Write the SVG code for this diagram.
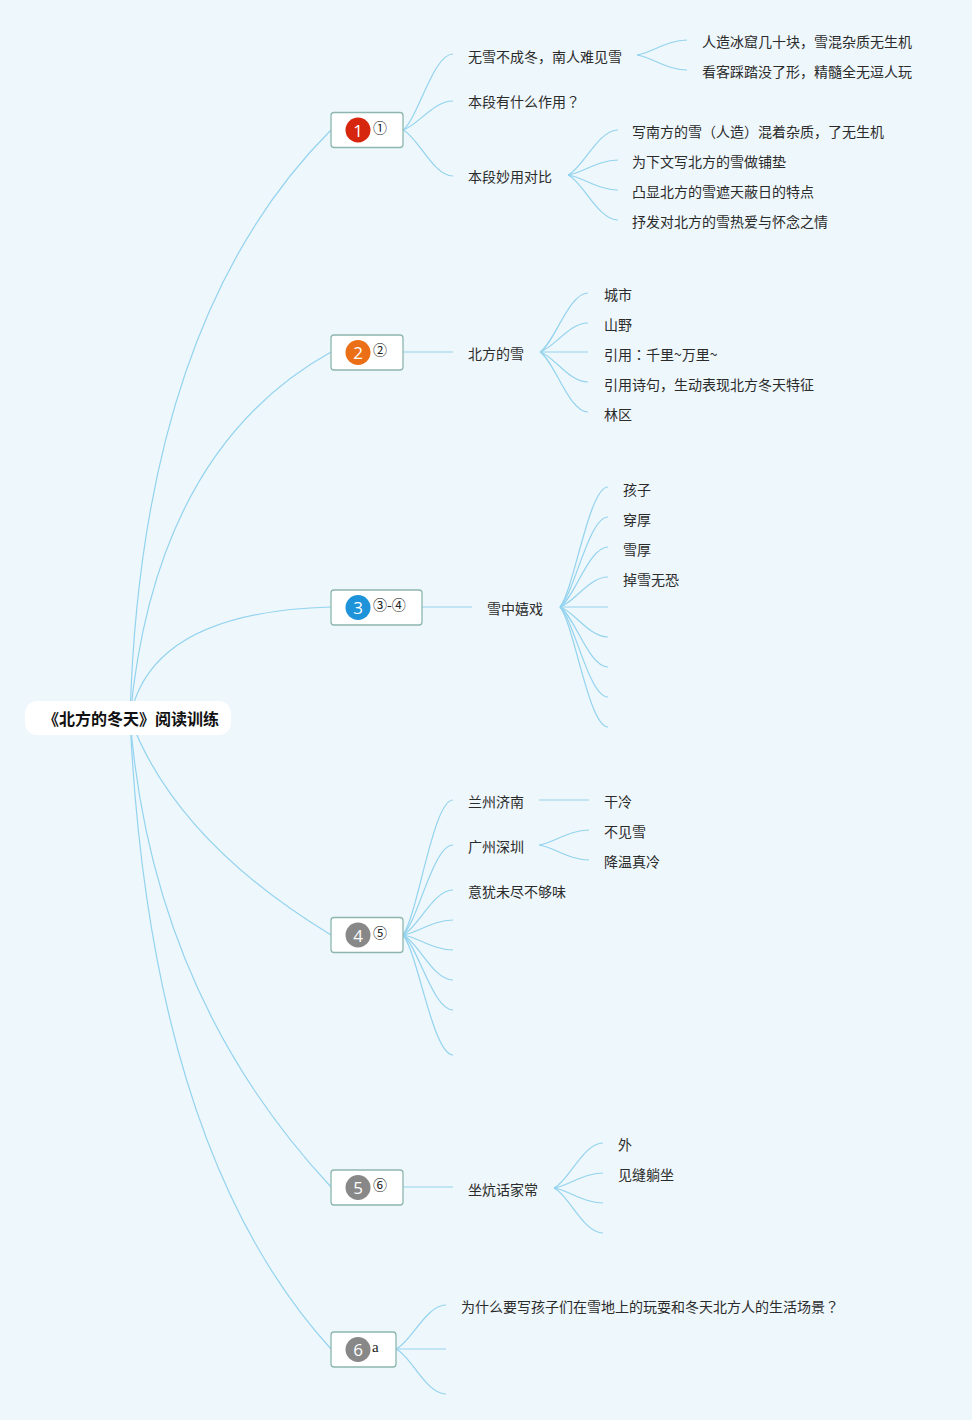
<svg xmlns="http://www.w3.org/2000/svg" width="972" height="1420" viewBox="0 0 972 1420">
<defs>
<style>
.bg{fill:#eef7fb}
.c{fill:none;stroke:#93d3ef;stroke-width:1.2}
.box{fill:#ffffff;stroke:#8db7ae;stroke-width:1.3}
.t{font-family:"Noto Sans CJK SC","Liberation Sans",sans-serif;font-size:14px;fill:#2b2b2b;dominant-baseline:central}
.p{font-family:"Noto Sans CJK TC","Noto Sans CJK SC",sans-serif}
.root{font-family:"Noto Sans CJK SC","Liberation Sans",sans-serif;font-size:16px;font-weight:bold;fill:#111;dominant-baseline:central;text-anchor:middle}
.num{font-family:"Open Sans","Liberation Sans",sans-serif;font-size:17px;fill:#fff;text-anchor:middle;dominant-baseline:central}
.mk{font-family:"Noto Sans CJK SC","DejaVu Sans",sans-serif;font-size:14px;fill:#222;dominant-baseline:central}
</style>
</defs>
<rect class="bg" x="0" y="0" width="972" height="1420"/>
<g id="connectors">
<path class="c" d="M130,718 Q141,320 331,130"/>
<path class="c" d="M130,718 Q155,450 331,352"/>
<path class="c" d="M130,718 Q150,612 331,607"/>
<path class="c" d="M130,718 Q175,840 331,935"/>
<path class="c" d="M130,718 Q152,995 331,1187"/>
<path class="c" d="M130,718 Q150,1150 331,1349"/>
<path class="c" d="M403,130 C418,118.6 433,54 453,54"/>
<path class="c" d="M403,130 C418,125.6 433,101 453,101"/>
<path class="c" d="M403,130 C418,136.9 433,176 453,176"/>
<path class="c" d="M637,55 C652,52.75 667,40 687,40"/>
<path class="c" d="M637,55 C652,57.25 667,70 687,70"/>
<path class="c" d="M568,175 C583,168.25 598,130 618,130"/>
<path class="c" d="M568,175 C583,172.75 598,160 618,160"/>
<path class="c" d="M568,175 C583,177.25 598,190 618,190"/>
<path class="c" d="M568,175 C583,181.75 598,220 618,220"/>
<path class="c" d="M403,352 L453,352"/>
<path class="c" d="M540,352 C554.4,343.15 568.8,293 588,293"/>
<path class="c" d="M540,352 C554.4,347.65 568.8,323 588,323"/>
<path class="c" d="M540,352 L588,352"/>
<path class="c" d="M540,352 C554.4,356.5 568.8,382 588,382"/>
<path class="c" d="M540,352 C554.4,361 568.8,412 588,412"/>
<path class="c" d="M422,607 L472,607"/>
<path class="c" d="M560,607 C574.4,589 588.8,487 608,487"/>
<path class="c" d="M560,607 C574.4,593.5 588.8,517 608,517"/>
<path class="c" d="M560,607 C574.4,598 588.8,547 608,547"/>
<path class="c" d="M560,607 C574.4,602.5 588.8,577 608,577"/>
<path class="c" d="M560,607 L608,607"/>
<path class="c" d="M560,607 C574.4,611.5 588.8,637 608,637"/>
<path class="c" d="M560,607 C574.4,616 588.8,667 608,667"/>
<path class="c" d="M560,607 C574.4,620.5 588.8,697 608,697"/>
<path class="c" d="M560,607 C574.4,625 588.8,727 608,727"/>
<path class="c" d="M403,935 C418,914.75 433,800 453,800"/>
<path class="c" d="M403,935 C418,921.5 433,845 453,845"/>
<path class="c" d="M403,935 C418,928.25 433,890 453,890"/>
<path class="c" d="M403,935 C418,932.75 433,920 453,920"/>
<path class="c" d="M403,935 C418,937.25 433,950 453,950"/>
<path class="c" d="M403,935 C418,941.75 433,980 453,980"/>
<path class="c" d="M403,935 C418,946.25 433,1010 453,1010"/>
<path class="c" d="M403,935 C418,953 433,1055 453,1055"/>
<path class="c" d="M539,800 L589,800"/>
<path class="c" d="M539,845 C554,842.75 569,830 589,830"/>
<path class="c" d="M539,845 C554,847.25 569,860 589,860"/>
<path class="c" d="M403,1187 L453,1187"/>
<path class="c" d="M554,1188 C568.7,1181.25 583.4,1143 603,1143"/>
<path class="c" d="M554,1188 C568.7,1185.75 583.4,1173 603,1173"/>
<path class="c" d="M554,1188 C568.7,1190.25 583.4,1203 603,1203"/>
<path class="c" d="M554,1188 C568.7,1194.75 583.4,1233 603,1233"/>
<path class="c" d="M396,1349 C411,1342.4 426,1305 446,1305"/>
<path class="c" d="M396,1349 L446,1349"/>
<path class="c" d="M396,1349 C411,1355.75 426,1394 446,1394"/>
</g>
<g id="root">
<rect x="25" y="701" width="206" height="34" rx="12" fill="#ffffff"/>
<text class="root" x="131" y="718">《北方的冬天》阅读训练</text>
</g>
<g id="n1">
<rect class="box" x="331" y="112.5" width="72" height="35" rx="3"/>
<circle cx="358" cy="130" r="12.5" fill="#d7260e"/>
<text class="num" x="358" y="130">1</text>
<text class="mk" x="373" y="127">①</text>
</g>
<g id="n1a"><text class="t" x="468" y="55.5">无雪不成冬，南人难见雪</text></g>
<g id="n1a1"><text class="t" x="702" y="40.5">人造冰窟几十块，雪混杂质无生机</text></g>
<g id="n1a2"><text class="t" x="702" y="70.5">看客踩踏没了形，精髓全无逗人玩</text></g>
<g id="n1b"><text class="t" x="468" y="100.5">本段有什么作用<tspan class="p">？</tspan></text></g>
<g id="n1c"><text class="t" x="468" y="175.5">本段妙用对比</text></g>
<g id="n1c1"><text class="t" x="632" y="130.5">写南方的雪（人造）混着杂质，了无生机</text></g>
<g id="n1c2"><text class="t" x="632" y="160.5">为下文写北方的雪做铺垫</text></g>
<g id="n1c3"><text class="t" x="632" y="190.5">凸显北方的雪遮天蔽日的特点</text></g>
<g id="n1c4"><text class="t" x="632" y="220.5">抒发对北方的雪热爱与怀念之情</text></g>
<g id="n2">
<rect class="box" x="331" y="335" width="72" height="35" rx="3"/>
<circle cx="358" cy="352.5" r="12.5" fill="#eb6f16"/>
<text class="num" x="358" y="352.5">2</text>
<text class="mk" x="373" y="349">②</text>
</g>
<g id="n2a"><text class="t" x="468" y="352.5">北方的雪</text></g>
<g id="n2a1"><text class="t" x="604" y="293.5">城市</text></g>
<g id="n2a2"><text class="t" x="604" y="323.5">山野</text></g>
<g id="n2a3"><text class="t" x="604" y="353.5">引用<tspan class="p">：</tspan>千里~万里~</text></g>
<g id="n2a4"><text class="t" x="604" y="383.5">引用诗句，生动表现北方冬天特征</text></g>
<g id="n2a5"><text class="t" x="604" y="413.5">林区</text></g>
<g id="n3">
<rect class="box" x="331" y="590" width="91" height="35" rx="3"/>
<circle cx="358" cy="607.5" r="12.5" fill="#1f93d9"/>
<text class="num" x="358" y="607.5">3</text>
<text class="mk" x="373" y="604">③-④</text>
</g>
<g id="n3a"><text class="t" x="487" y="607.5">雪中嬉戏</text></g>
<g id="n3a1"><text class="t" x="623" y="488.5">孩子</text></g>
<g id="n3a2"><text class="t" x="623" y="518.5">穿厚</text></g>
<g id="n3a3"><text class="t" x="623" y="548.5">雪厚</text></g>
<g id="n3a4"><text class="t" x="623" y="578.5">掉雪无恐</text></g>
<g id="n4">
<rect class="box" x="331" y="917.5" width="72" height="35" rx="3"/>
<circle cx="358" cy="935" r="12.5" fill="#888888"/>
<text class="num" x="358" y="935">4</text>
<text class="mk" x="373" y="932">⑤</text>
</g>
<g id="n4a"><text class="t" x="468" y="800.5">兰州济南</text></g>
<g id="n4a1"><text class="t" x="604" y="800.5">干冷</text></g>
<g id="n4b"><text class="t" x="468" y="845.5">广州深圳</text></g>
<g id="n4b1"><text class="t" x="604" y="830.5">不见雪</text></g>
<g id="n4b2"><text class="t" x="604" y="860.5">降温真冷</text></g>
<g id="n4c"><text class="t" x="468" y="890.5">意犹未尽不够味</text></g>
<g id="n5">
<rect class="box" x="331" y="1170" width="72" height="35" rx="3"/>
<circle cx="358" cy="1187.5" r="12.5" fill="#888888"/>
<text class="num" x="358" y="1187.5">5</text>
<text class="mk" x="373" y="1184">⑥</text>
</g>
<g id="n5a"><text class="t" x="468" y="1188.5">坐炕话家常</text></g>
<g id="n5a1"><text class="t" x="618" y="1143.5">外</text></g>
<g id="n5a2"><text class="t" x="618" y="1173.5">见缝躺坐</text></g>
<g id="n6">
<rect class="box" x="331" y="1332" width="65" height="35" rx="3"/>
<circle cx="358" cy="1349.5" r="12.5" fill="#888888"/>
<text class="num" x="358" y="1349.5">6</text>
<text x="372" y="1352" font-family="Liberation Serif, serif" font-size="15" fill="#222">a</text>
</g>
<g id="n6a"><text class="t" x="461" y="1305.5">为什么要写孩子们在雪地上的玩耍和冬天北方人的生活场景<tspan class="p">？</tspan></text></g>
</svg>
